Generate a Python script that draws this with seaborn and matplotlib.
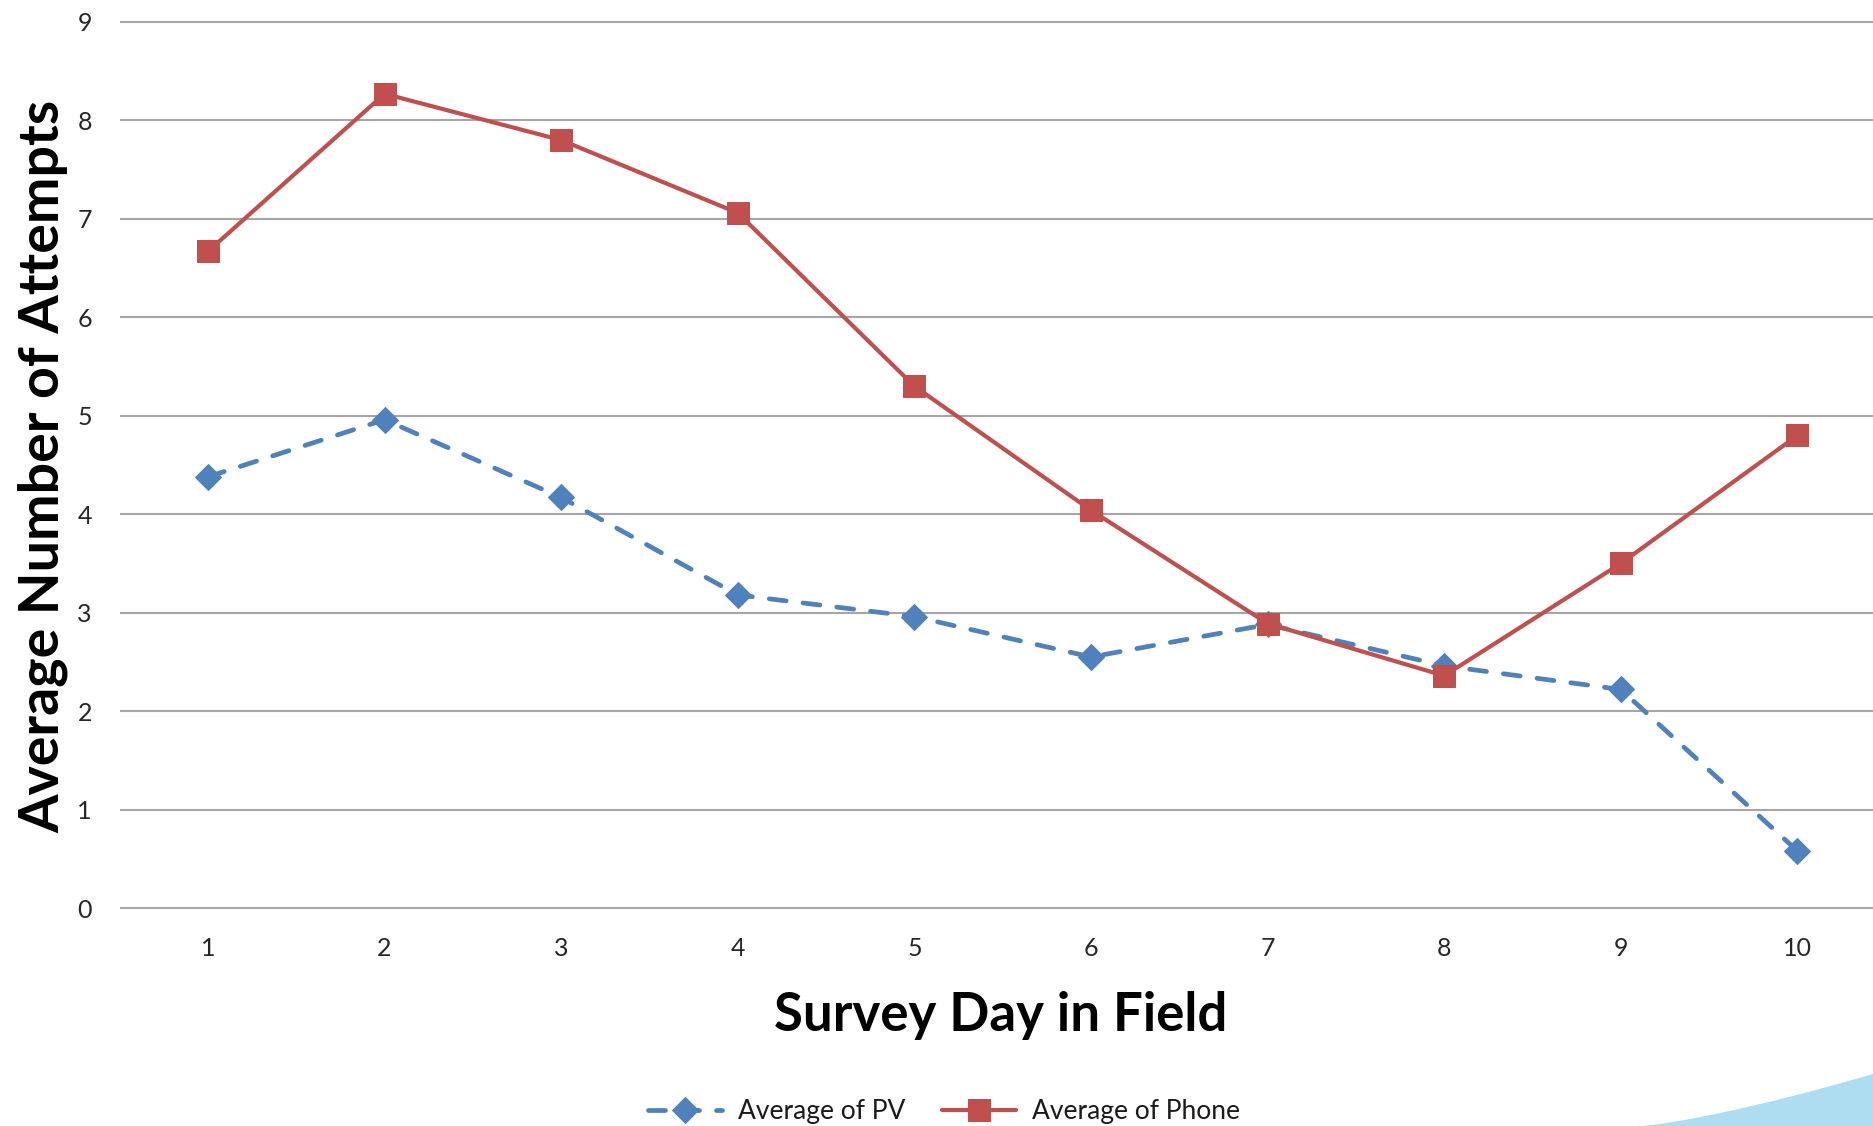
import matplotlib
matplotlib.use("Agg")
import matplotlib.pyplot as plt
import seaborn as sns
import pandas as pd
import numpy as np
from matplotlib.patches import Polygon

# Survey days and average contact attempts per mode
days = [1, 2, 3, 4, 5, 6, 7, 8, 9, 10]
avg_pv = [4.38, 4.96, 4.17, 3.18, 2.96, 2.55, 2.88, 2.46, 2.22, 0.58]
avg_phone = [6.67, 8.27, 7.80, 7.06, 5.30, 4.04, 2.89, 2.36, 3.50, 4.80]
y_ticks = [0, 1, 2, 3, 4, 5, 6, 7, 8, 9]

PV_COLOR = "#4F81BD"
PHONE_COLOR = "#C0504D"
GRID_COLOR = "#A6A6A6"

sns.set_theme(style="white")
plt.rcParams["font.family"] = ["Lato", "DejaVu Sans"]

df = pd.DataFrame({"day": days, "pv": avg_pv, "phone": avg_phone})

W, H = 1873, 1126
fig = plt.figure(figsize=(W / 100, H / 100), dpi=100)
fig.patch.set_facecolor("white")

# decorative swoosh in the lower right corner
xs = np.linspace(1640, 1873, 40)
t = (xs - 1640) / (1873 - 1640)
ys = 1126 - 52 * t ** 1.3
pts = [(x / W, 1 - y / H) for x, y in zip(xs, ys)] + [(1.0, 0.0), (1640 / W, 0.0)]
fig.patches.append(Polygon(pts, closed=True, transform=fig.transFigure,
                           facecolor="#AEDDF2", edgecolor="none", zorder=0))

left_px, bottom_px, top_px = 119.7, 911.0, 19.0
ax = fig.add_axes([left_px / W, 1 - bottom_px / H, 1 - left_px / W, (bottom_px - top_px) / H])
ax.set_facecolor("none")

sns.lineplot(data=df, x="day", y="pv", ax=ax, color=PV_COLOR, linewidth=3.4,
             marker="D", markersize=13, markeredgecolor=PV_COLOR,
             label="Average of PV", zorder=3)
sns.lineplot(data=df, x="day", y="phone", ax=ax, color=PHONE_COLOR, linewidth=3.0,
             marker="s", markersize=16.5, markeredgecolor=PHONE_COLOR,
             label="Average of Phone", zorder=4)

pv_line = ax.lines[0]
pv_line.set_dashes((3.6, 3.6))
pv_line.set_dash_capstyle("round")

ax.set_xlim(0.5, 10.428)
ax.set_ylim(-0.03, 9.03)
ax.set_xticks(days)
ax.set_yticks(y_ticks)
ax.yaxis.grid(True, color=GRID_COLOR, linewidth=1.5)
ax.xaxis.grid(False)
for s in ax.spines.values():
    s.set_visible(False)
ax.tick_params(axis="both", length=0, labelsize=18, labelcolor="#262626")
ax.tick_params(axis="x", pad=19)
ax.tick_params(axis="y", pad=20)

ax.set_xlabel("Survey Day in Field", fontsize=38, fontweight="bold", color="black", va="center")
ax.xaxis.set_label_coords(1001 / W, 1 - 1015 / H, transform=fig.transFigure)
ax.set_ylabel("Average Number of Attempts", fontsize=40, fontweight="bold", color="black", va="center")
ax.yaxis.set_label_coords(43 / W, 1 - 466 / H, transform=fig.transFigure)

ax.legend_.remove()
handles = ax.lines[:2]
fig.legend(handles, ["Average of PV", "Average of Phone"], loc="center",
           bbox_to_anchor=(944 / W, 1 - 1112 / H), ncol=2, frameon=False,
           fontsize=19, handlelength=2.8, handletextpad=0.6, columnspacing=1.4,
           labelcolor="#1a1a1a")

fig.savefig("out.png", dpi=100, facecolor="white")
